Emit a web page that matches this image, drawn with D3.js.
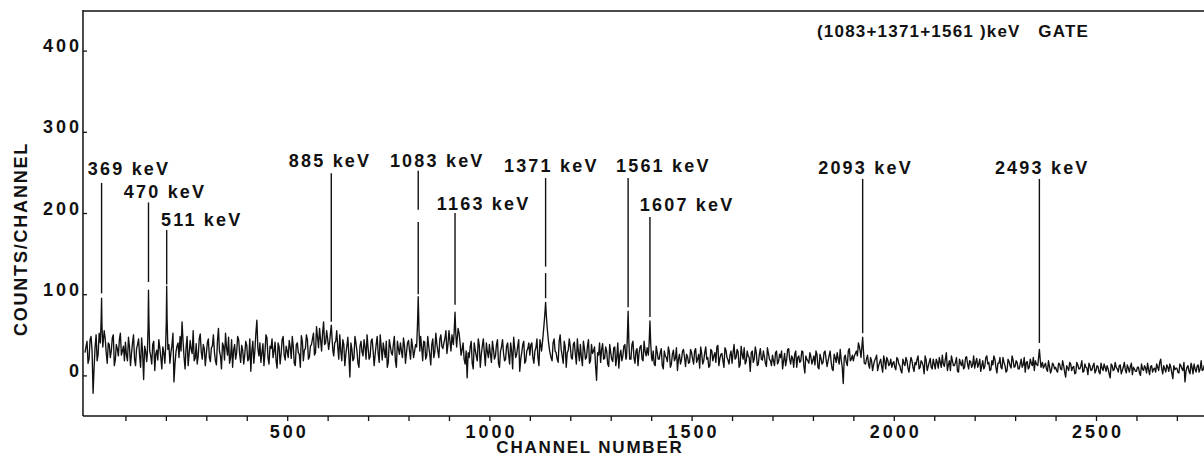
<!DOCTYPE html>
<html>
<head>
<meta charset="utf-8">
<script src="https://cdn.jsdelivr.net/npm/d3@7"></script>
<style>
body { margin: 0; background: #fff; }
svg { display: block; font-family: 'Liberation Sans', Arial, sans-serif; font-weight: bold; }
.tick text { font-size: 18px; letter-spacing: 3px; fill: #111; }
.peak-label { font-size: 18px; letter-spacing: 2.2px; fill: #111; }
</style>
</head>
<body>
<div id="chart"></div>
<script>
let width = 1204
let height = 457

// background counts, one value every 5 channels (0 .. 2800)
const binWidth = 5
const bgCounts = [
	28, 42, 20, 48, -22, 35, 18, 52, 40, 22, 45, 15, 38, 30, 50, 19, 33, 44, 25, 36,
	41, 18, 35, 27, 50, 12, 38, 24, 46, -5, 30, 21, 36, 14, 42, 26, 19, 34, 8, 28,
	31, 44, 15, 37, -8, 29, 40, 48, 66, 22, 35, 12, 43, 27, 18, 39, 24, 51, 20, 33,
	26, 45, 17, 36, 29, 13, 58, 24, 40, 19, 34, 47, 22, 10, 38, 28, 44, 16, 31, 25,
	37, 20, 5, 42, 30, 68, 24, 16, 39, 28, 46, 14, 33, 22, 41, 9, 35, 27, 48, 19,
	30, 43, 21, 36, 12, 40, 26, 49, 18, 33, 44, 23, 38, 52, 28, 47, 58, 30, 66, 40,
	45, 28, 55, 24, 42, 35, 50, 18, 38, 26, 47, -2, 32, 21, 40, 15, 36, 29, 44, 20,
	34, 23, 45, 12, 38, 27, 50, 19, 31, 42, 16, 36, 25, 48, 10, 33, 40, 22, 37, 28,
	43, 20, 35, 30, 26, 38, 48, 18, 41, 24, 36, 13, 45, 29, 39, 22, 50, 33, 46, 27,
	55, 30, 48, 60, 35, 52, 25, 40, 14, -3, 22, 42, 8, 31, 18, 37, 26, 45, 12, 29,
	38, 16, 32, 24, 44, 10, 35, 27, 20, 40, 14, 30, 47, 22, 36, 5, 28, 42, 18, 33,
	25, 40, 15, 34, 22, 44, 30, 26, 35, 28, 38, 18, 45, 28, 16, 50, 24, 42, 10, 31,
	36, 20, 41, 14, 29, 38, 12, 33, 22, 44, 18, 27, 35, -6, 25, 16, 39, 21, 30, 11,
	28, 17, 35, 22, 9, 31, 24, 38, 40, 26, 20, 42, 15, 33, 27, 37, 18, 30, 34, 22,
	25, 30, 12, 28, 20, 33, 8, 24, 17, 29, 14, 31, 21, 6, 26, 19, 32, 11, 23, 16,
	28, 14, 33, 20, 9, 27, 18, 35, 22, 12, 30, 24, 16, 37, 21, 27, 10, 31, 19, 25,
	15, 38, 22, 29, 13, 26, 34, 17, 24, 5, 30, 20, 28, 14, 33, 19, 23, 11, 27, 18,
	25, 12, 30, 17, 22, 8, 27, 19, 33, 14, 21, 26, 10, 24, 18, 29, 3, 20, 15, 23,
	19, 13, 26, 8, 21, 16, 30, 11, 24, 17, 6, 22, 28, 14, 19, -10, 25, 12, 33, 20,
	18, 27, 24, 35, 30, 22, 14, 25, 9, 18, 13, 21, 6, 16, 11, 24, 8, 19, 14, 10,
	17, 7, 20, 12, 3, 15, 22, 9, 14, 18, 5, 13, 24, 10, 16, 2, 19, 11, 21, 8,
	14, 20, 9, 16, 25, 11, 28, 13, 6, 18, 12, 22, 4, 15, 19, 10, 23, 8, 17, 13,
	9, 21, 14, 5, 18, 11, 24, 16, 7, 13, 20, 3, 15, 10, 22, 12, 6, 17, 9, 19,
	11, 16, 8, 20, 13, 4, 17, 10, 15, 22, 18, 12, 14, 6, 9, 15, 5, 11, 7, 13,
	10, 4, 14, 7, 12, -2, 9, 16, 6, 11, 3, 13, 8, 18, 5, 10, 1, 12, 7, 15,
	6, 11, 2, 9, 14, 5, 8, -3, 12, 7, 10, 4, 13, 6, 16, 3, 9, 11, 1, 8,
	5, 10, 0, 8, 12, 3, 7, 11, 4, 9, 14, 6, 20, 2, 8, 13, 5, 10, -4, 7,
	9, 3, 12, 6, -8, 10, 5, 15, 2, 8, 11, 4, 18, 7, 1, 9, 13, 5, 10, 3,
	6
]

// counts half way between the bins above (channels 2.5, 7.5, ... 2797.5)
const midCounts = [
	35, 15, 44, 30, 10, 50, 26, 33, 0, 55, 28, 40, 22, 46, 12, 38, 24, 52, 30, 18,
	25, 47, 12, 40, 20, 33, 45, 10, 28, 36, 17, 43, 24, 38, 6, 31, 44, 22, 35, 15,
	20, 38, 28, 52, 14, 36, 22, 30, 42, 8, 48, 26, 32, 55, 21, 14, 45, 29, 38, 12,
	40, 22, 34, 50, 18, 42, 30, 8, 36, 52, 25, 15, 44, 31, 20, 48, 26, 37, 14, 42,
	18, 45, 30, 15, 52, 33, 40, 28, 12, 50, 22, 36, 45, 30, 18, 40, 14, 44, 25, 36,
	22, 35, 48, 15, 38, 28, 10, 42, 31, 50, 20, 36, 45, 25, 60, 34, 44, 52, 38, 55,
	32, 48, 22, 40, 55, 20, 30, 44, 12, 36, 25, 40, 18, 48, 30, 10, 42, 24, 35, 50,
	20, 42, 30, 26, 48, 16, 35, 40, 22, 10, 44, 28, 38, 18, 42, 26, 30, 46, 15, 40,
	30, 45, 22, 38, 50, 28, 35, 42, 20, 48, 26, 38, 22, 52, 30, 45, 36, 40, 55, 38,
	42, 50, 36, 45, 58, 40, 32, 20, 30, 28, 35, 15, 40, 24, 45, 10, 36, 28, 40, 22,
	26, 42, 20, 38, 15, 30, 44, 18, 36, 25, 40, 8, 34, 26, 44, 20, 38, 15, 30, 40,
	38, 22, 30, 45, 12, 36, 42, 30, 28, 35, 22, 40, 30, 20, 42, 32, 15, 35, 28, 45,
	22, 38, 26, 45, 18, 22, 42, 20, 36, 15, 38, 30, 12, 28, 40, 32, 20, 35, 14, 38,
	20, 34, 12, 40, 25, 18, 36, 20, 30, 15, 38, 22, 30, 12, 35, 20, 42, 24, 16, 30,
	18, 14, 36, 20, 28, 12, 30, 22, 35, 10, 26, 18, 34, 20, 14, 30, 22, 26, 15, 32,
	20, 30, 16, 26, 35, 14, 28, 20, 10, 32, 18, 28, 35, 12, 26, 18, 34, 22, 14, 30,
	28, 20, 32, 10, 36, 20, 14, 30, 22, 28, 16, 35, 12, 26, 20, 30, 15, 34, 20, 12,
	18, 28, 14, 26, 30, 18, 12, 32, 20, 24, 10, 30, 22, 16, 30, 12, 24, 18, 28, 14,
	24, 30, 10, 26, 14, 28, 20, 18, 30, 8, 26, 16, 20, 32, 10, 22, 16, 30, 18, 25,
	24, 30, 40, 28, 20, 10, 20, 14, 22, 6, 18, 25, 12, 20, 4, 18, 22, 12, 20, 15,
	10, 22, 14, 6, 20, 12, 18, 4, 22, 10, 16, 20, 8, 18, 12, 24, 6, 16, 10, 20,
	8, 16, 22, 10, 14, 20, 6, 18, 24, 12, 16, 5, 20, 12, 8, 22, 14, 18, 10, 24,
	16, 10, 20, 12, 8, 22, 14, 6, 18, 24, 10, 15, 22, 8, 16, 4, 20, 12, 24, 10,
	18, 8, 14, 10, 22, 16, 8, 20, 12, 6, 14, 20, 4, 16, 12, 8, 18, 3, 15, 8,
	6, 15, 8, 18, 4, 12, 6, 14, 10, 2, 16, 8, 12, 4, 14, 9, 15, 6, 12, 3,
	12, 4, 15, 6, 10, 12, 2, 14, 6, 16, 8, 12, 2, 10, 7, 13, 4, 15, 10, 5,
	10, 3, 14, 6, 9, 15, 1, 12, 8, 4, 10, 16, 8, 12, 4, 10, 14, 3, 12, 9,
	4, 14, 8, 16, 5, 12, 2, 10, 14, 4, 13, 8, 6, 12, 16, 3, 8, 12, 2, 11
]

const peakLabels = ['369 keV', '470 keV', '511 keV', '885 keV', '1083 keV', '1163 keV',
	'1371 keV', '1561 keV', '1607 keV', '2093 keV', '2493 keV']
const peakChannels = [41, 157, 202, 609, 824, 915, 1139, 1343, 1397, 1923, 2360]
// [channel, counts] points drawn over each peak
const peakShapes = [
	[[38, 40], [40, 70], [41, 95], [42, 62], [44, 35]],
	[[154, 25], [156, 60], [157, 105], [158, 70], [160, 30]],
	[[199, 30], [201, 65], [202, 110], [203, 70], [205, 32]],
	[[605, 42], [607, 52], [609, 62], [611, 45], [613, 30]],
	[[820, 35], [822, 60], [824, 97], [826, 55], [828, 30]],
	[[911, 38], [913, 55], [915, 78], [917, 50], [919, 35]],
	[[1129, 30], [1132, 45], [1135, 62], [1137, 75], [1139, 90], [1141, 72], [1143, 58], [1146, 42], [1149, 30]],
	[[1339, 22], [1341, 45], [1343, 79], [1345, 40], [1347, 20]],
	[[1393, 25], [1395, 40], [1397, 67], [1399, 38], [1401, 22]],
	[[1919, 22], [1921, 35], [1923, 47], [1925, 30], [1927, 15]],
	[[2356, 12], [2358, 22], [2360, 32], [2362, 20], [2364, 10]]
]
// label text start (channel) and baseline (counts)
const labelChannels = [7, 96, 188, 504, 754, 870, 1036, 1313, 1372, 1813, 2250]
const labelLevels = [247, 218, 184, 257, 257, 204, 250, 251, 202, 248, 248]
// marker line extent in counts, with the small breaks seen in two of them
const lineTops = [237, 213, 179, 249, 252, 200, 243, 243, 195, 242, 242]
const lineBottoms = [101, 115, 112, 66, 100, 87, 95, 84, 72, 52, 40]
const lineBreaks = [null, null, null, null, [204, 189], null, [134, 126], null, null, null, null]

const yTicks = [0, 100, 200, 300, 400]
const xTicks = d3.range(100, 2801, 100)
const xLabelTicks = [500, 1000, 1500, 2000, 2500]

const title = '(1083+1371+1561 )keV   GATE'
const xTitle = 'CHANNEL NUMBER'
const yTitle = 'COUNTS/CHANNEL'

let xScale = d3.scaleLinear()
	.domain([0, 2800])
	.range([85, 85 + 2800 * 0.4044])

let yScale = d3.scaleLinear()
	.domain([-50, 450])
	.range([416, 10])

let svg = d3.select('#chart').append('svg')
	.attr('width', width)
	.attr('height', height)

let x0 = xScale(-5)
let yTop = yScale(450)
let yBottom = yScale(-50)

svg.append('clipPath').attr('id', 'plot-clip')
	.append('rect')
	.attr('x', x0).attr('y', yTop)
	.attr('width', width - x0).attr('height', yBottom - yTop)

// frame lines
let frame = svg.append('g')
	.attr('stroke', '#111')
	.attr('stroke-width', 1.5)
frame.append('line').attr('x1', x0).attr('x2', width).attr('y1', yTop + 1).attr('y2', yTop + 1)
frame.append('line').attr('x1', x0).attr('x2', x0).attr('y1', yTop).attr('y2', yBottom)
frame.append('line').attr('x1', x0).attr('x2', width).attr('y1', yBottom).attr('y2', yBottom)

// axes
let xAxis = d3.axisBottom(xScale)
	.tickValues(xTicks)
	.tickSize(5)
	.tickPadding(4)
	.tickFormat((d) => xLabelTicks.includes(d) ? d : '')

let xAxisG = svg.append('g')
	.attr('transform', `translate(0,${yBottom})`)
	.call(xAxis)
xAxisG.select('.domain').remove()
xAxisG.selectAll('line').attr('stroke', '#111').attr('stroke-width', 1.3)
xAxisG.selectAll('text').attr('dx', '1.5px')

let yAxis = d3.axisLeft(yScale)
	.tickValues(yTicks)
	.tickSize(-4)
	.tickPadding(1)

let yAxisG = svg.append('g')
	.attr('transform', `translate(${x0},0)`)
	.call(yAxis)
yAxisG.select('.domain').remove()
yAxisG.selectAll('line').attr('stroke', '#111').attr('stroke-width', 1.3)
yAxisG.selectAll('text').attr('dy', 1)

// axis titles
svg.append('text')
	.text(xTitle)
	.attr('x', 590)
	.attr('y', 453)
	.attr('text-anchor', 'middle')
	.attr('font-size', 17)
	.attr('letter-spacing', '1.8px')
	.attr('fill', '#111')

svg.append('text')
	.text(yTitle)
	.attr('transform', 'translate(27,239) rotate(-90)')
	.attr('text-anchor', 'middle')
	.attr('font-size', 18)
	.attr('letter-spacing', '1.8px')
	.attr('fill', '#111')

svg.append('text')
	.text(title)
	.attr('x', 817)
	.attr('y', 37)
	.attr('font-size', 17)
	.attr('letter-spacing', '1.2px')
	.attr('fill', '#111')
	.style('white-space', 'pre')

// spectrum
let spans = peakShapes.map((p) => [p[0][0], p[p.length - 1][0]])
let rawPoints = bgCounts.map((c, i) => [i * binWidth, c])
	.concat(midCounts.map((c, i) => [i * binWidth + binWidth / 2, c]))
let bgPoints = rawPoints
	.filter(([ch]) => !spans.some(([a, b]) => ch >= a - 1 && ch <= b + 1))
let series = bgPoints.concat(peakShapes.flat()).sort((a, b) => a[0] - b[0])

let line = d3.line()
	.x((d) => xScale(d[0]))
	.y((d) => yScale(d[1]))

svg.append('path')
	.datum(series)
	.attr('clip-path', 'url(#plot-clip)')
	.attr('d', line)
	.attr('fill', 'none')
	.attr('stroke', '#111')
	.attr('stroke-width', 1.35)
	.attr('stroke-linejoin', 'round')

// peak markers
let marks = svg.append('g')
peakLabels.forEach((label, i) => {
	let gap = lineBreaks[i]
	let segments = gap
		? [[lineTops[i], gap[0]], [gap[1], lineBottoms[i]]]
		: [[lineTops[i], lineBottoms[i]]]
	segments.forEach(([a, b]) => {
		marks.append('line')
			.attr('x1', xScale(peakChannels[i]))
			.attr('x2', xScale(peakChannels[i]))
			.attr('y1', yScale(a))
			.attr('y2', yScale(b))
			.attr('stroke', '#111')
			.attr('stroke-width', 1.4)
	})
	marks.append('text')
		.attr('class', 'peak-label')
		.attr('x', xScale(labelChannels[i]))
		.attr('y', yScale(labelLevels[i]))
		.text(label)
})
</script>
</body>
</html>
